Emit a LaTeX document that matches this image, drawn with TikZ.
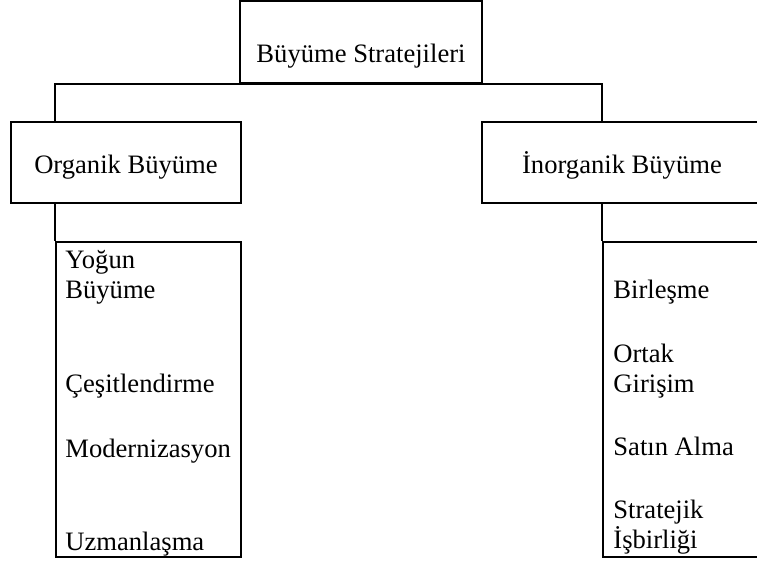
\documentclass[tikz,border=0pt]{standalone}
\usepackage{fontspec}
\setmainfont{Liberation Serif}
\usetikzlibrary{positioning}

\begin{document}
\begin{tikzpicture}[x=0.5pt,y=-0.5pt,
      font=\fontsize{13.3}{15}\selectfont,
      box/.style={draw,line width=1.1pt,inner sep=0pt},
      item/.style={anchor=base west,inner sep=0pt,align=left}]
    \useasboundingbox (0,0) rectangle (757,562);
    \clip (0,0) rectangle (757,562);
    \node[box,minimum width=121pt,minimum height=41pt,text height=21.5pt,text depth=1.5pt] (strat) at (361,42) {Büyüme Stratejileri};
    \node[box,minimum width=115pt,minimum height=40.5pt,text height=12pt,text depth=1.5pt] (org) at (126,162.5) {Organik Büyüme};
    \node[box,minimum width=140pt,minimum height=40.5pt,text height=12pt,text depth=1.5pt] (inorg) at (622,162.5) {İnorganik Büyüme};
    \node[box,minimum width=92.5pt,minimum height=157.5pt] (orglist) at (148.5,399.5) {};
    \node[box,minimum width=80pt,minimum height=157.5pt] (inorglist) at (683,399.5) {};
    % lists (base = last line)
    \foreach \y/\t [count=\i] in {298/{Yoğun\\Büyüme},392/Çeşitlendirme,457/Modernizasyon,550/Uzmanlaşma}
      \node[item] (orgitem\i) at (65,\y) {\t};
    \foreach \y/\t [count=\i] in {298/Birleşme,392/{Ortak\\Girişim},455/Satın Alma,548/{Stratejik\\İşbirliği}}
      \node[item] (inorgitem\i) at (613,\y) {\t};
    % connectors
    \draw[line width=1.1pt] (orglist.north west |- org.north) |- (strat.south) -| (inorglist.north west |- inorg.north);
    \draw[line width=1.1pt] (org.south -| orglist.north west) -- (orglist.north west);
    \draw[line width=1.1pt] (inorg.south -| inorglist.north west) -- (inorglist.north west);
  \end{tikzpicture}
\end{document}
